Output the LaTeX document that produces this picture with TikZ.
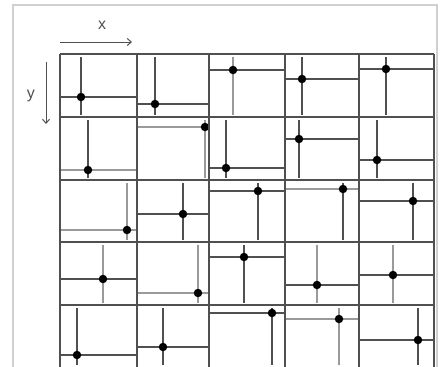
\documentclass[tikz,border=0pt]{standalone}
\usepackage{fontspec}
\setmainfont{Liberation Sans}
\usetikzlibrary{arrows.meta}
\definecolor{gridc}{HTML}{505050}
\definecolor{lightc}{HTML}{9A9A9A}
\definecolor{framec}{HTML}{D0D0D0}
\tikzset{
  gridline/.style={draw=gridc, line width=1.3pt},
  celllinedark/.style={draw=gridc, line width=1.2pt},
  celllinelight/.style={draw=lightc, line width=1.6pt},
  dotnode/.style={circle, fill=black, inner sep=0pt, minimum size=8.5pt},
  axisarrow/.style={draw=gridc, line width=1pt, -{Straight Barb[length=4pt,width=7pt]}},
  axislabel/.style={text=gridc, font=\fontsize{16}{16}\selectfont, inner sep=0pt},
  framebox/.style={draw=framec, line width=1.6pt}
}
\begin{document}
\begin{tikzpicture}[x=1pt,y=-1pt]
\useasboundingbox (0,0) rectangle (440,367);
% outer frame (open at bottom)
\coordinate (fbl) at (13,367);
\coordinate (ftl) at (13,5);
\coordinate (ftr) at (437,5);
\coordinate (fbr) at (437,367);
\draw[framebox] (fbl) -- (ftl) -- (ftr) -- (fbr);
% axes
\coordinate (xa) at (60,42);
\coordinate (xb) at (132,42);
\draw[axisarrow] (xa) -- (xb);
\node[axislabel] (xl) at (102,25) {x};
\coordinate (ya) at (46,62);
\coordinate (yb) at (46,124);
\draw[axisarrow] (ya) -- (yb);
\node[axislabel] (yl) at (31,96) {y};
% cells: col index, row index, dot x, dot y, vertical style, horizontal style
\def\xs{{60,137,209,285,359,434}}
\def\ys{{54,117,180,242,305,367}}
\foreach \c/\r/\px/\py/\vs/\hs in {
 0/0/81/97/celllinedark/celllinedark,
 1/0/155/104/celllinedark/celllinedark,
 2/0/233/70/celllinelight/celllinedark,
 3/0/302/79/celllinedark/celllinedark,
 4/0/386/69/celllinedark/celllinedark,
 0/1/88/170/celllinedark/celllinelight,
 1/1/205/127/celllinelight/celllinelight,
 2/1/226/168/celllinedark/celllinedark,
 3/1/299/139/celllinedark/celllinedark,
 4/1/377/160/celllinedark/celllinedark,
 0/2/127/230/celllinelight/celllinelight,
 1/2/183/214/celllinedark/celllinedark,
 2/2/258/191/celllinedark/celllinedark,
 3/2/343/189/celllinedark/celllinelight,
 4/2/413/201/celllinedark/celllinedark,
 0/3/103/279/celllinelight/celllinedark,
 1/3/198/293/celllinelight/celllinelight,
 2/3/244/257/celllinedark/celllinedark,
 3/3/317/285/celllinelight/celllinedark,
 4/3/393/275/celllinelight/celllinedark,
 0/4/77/355/celllinedark/celllinedark,
 1/4/163/347/celllinedark/celllinedark,
 2/4/272/313/celllinedark/celllinedark,
 3/4/339/319/celllinelight/celllinelight,
 4/4/418/340/celllinedark/celllinedark}{
  \pgfmathsetmacro{\xl}{\xs[\c]}
  \pgfmathsetmacro{\xr}{\xs[\c+1]}
  \pgfmathsetmacro{\yt}{\ys[\r]+3}
  \pgfmathsetmacro{\yb}{\ys[\r+1]-2}
  \coordinate (v\c\r a) at (\px,\yt);
  \coordinate (v\c\r b) at (\px,\yb);
  \coordinate (h\c\r a) at (\xl,\py);
  \coordinate (h\c\r b) at (\xr,\py);
  \draw[\vs] (v\c\r a) -- (v\c\r b);
  \draw[\hs] (h\c\r a) -- (h\c\r b);
  \node[dotnode] (d\c\r) at (\px,\py) {};
}
% grid lines
\foreach \gx in {60,137,209,285,359,434}{
  \coordinate (gxa\gx) at (\gx,54);
  \coordinate (gxb\gx) at (\gx,367);
  \draw[gridline] (gxa\gx) -- (gxb\gx);
}
\foreach \gy in {54,117,180,242,305}{
  \coordinate (gya\gy) at (60,\gy);
  \coordinate (gyb\gy) at (434,\gy);
  \draw[gridline] (gya\gy) -- (gyb\gy);
}
\end{tikzpicture}
\end{document}
